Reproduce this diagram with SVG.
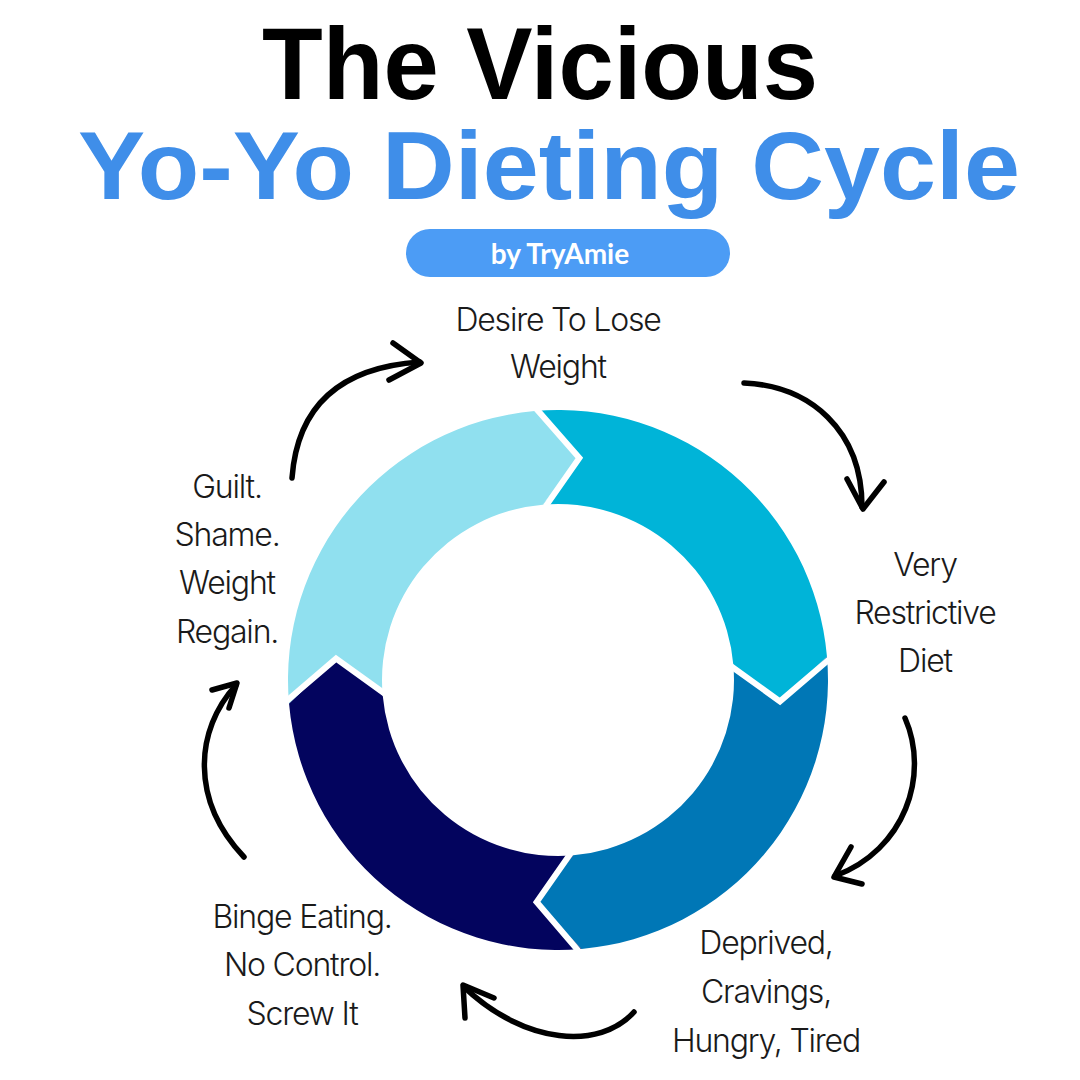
<svg xmlns="http://www.w3.org/2000/svg" width="1080" height="1080" viewBox="0 0 1080 1080">
<style>
.title{font-family:"Liberation Sans",Arial,sans-serif;font-weight:700;}
.lbl{font-family:Inter,"Liberation Sans",sans-serif;font-weight:300;font-size:32px;fill:#1a1a1a;text-anchor:middle;letter-spacing:-1.2px;}
.gap{fill:none;stroke:#ffffff;stroke-width:6;stroke-linejoin:miter;}
.arr{fill:none;stroke:#000;stroke-width:5.5;stroke-linecap:round;stroke-linejoin:round;}
</style>
<rect width="1080" height="1080" fill="#ffffff"/>
<g id="title">
<text class="title" x="540" y="99" font-size="102" text-anchor="middle" textLength="556" lengthAdjust="spacingAndGlyphs" fill="#000">The Vicious</text>
<text class="title" x="549" y="199" font-size="96" text-anchor="middle" textLength="942" lengthAdjust="spacingAndGlyphs" fill="#3f8ee9">Yo-Yo Dieting Cycle</text>
</g>
<g id="badge">
<rect x="406" y="229" width="324" height="48" rx="24" fill="#4c9cf5"/>
<text x="560" y="264" font-family="Lato,'Open Sans',sans-serif" font-weight="700" font-size="28" fill="#fff" text-anchor="middle">by TryAmie</text>
</g>
<g id="ring">
<path id="seg-restrict" fill="#00b4d8" d="M534.47,411.03 A270,270 0 0 1 826.97,656.47 L779.97,701.37 L733.33,664.66 A176,176 0 0 0 542.66,504.67 L579.37,458.03 Z"/>
<path id="seg-deprived" fill="#0077b6" d="M826.97,656.47 A270,270 0 0 1 581.53,948.97 L536.63,901.97 L573.34,855.33 A176,176 0 0 0 733.33,664.66 L779.97,701.37 Z"/>
<path id="seg-binge" fill="#03045e" d="M581.53,948.97 A270,270 0 0 1 289.03,703.53 L336.03,658.63 L382.67,695.34 A176,176 0 0 0 573.34,855.33 L536.63,901.97 Z"/>
<path id="seg-guilt" fill="#90e0ef" d="M289.03,703.53 A270,270 0 0 1 534.47,411.03 L579.37,458.03 L542.66,504.67 A176,176 0 0 0 382.67,695.34 L336.03,658.63 Z"/>
<polyline class="gap" points="533,405 579.37,458.03 543,510"/>
<polyline class="gap" points="833,656 779.97,701.37 728,664"/>
<polyline class="gap" points="582,955 536.63,901.97 573,850"/>
<polyline class="gap" points="283,704 336.03,658.63 388,696"/>
</g>
<g id="connectors">
<path class="arr" d="M292,478 Q300,370 420,362"/>
<polyline class="arr" points="393,343 421,363 389,380"/>
<path class="arr" d="M744,383 C810,386 862,430 862,507"/>
<polyline class="arr" points="847,479 863,509 884,482"/>
<path class="arr" d="M905,718 C930,775 905,850 835,876"/>
<polyline class="arr" points="851,847 834,877 862,884"/>
<path class="arr" d="M634,1012 C600,1050 525,1045 464,987"/>
<polyline class="arr" points="494,998 463,985 465,1018"/>
<path class="arr" d="M244,857 C190,800 195,730 236,685"/>
<polyline class="arr" points="212,690 237,683 229,708"/>
</g>
<g id="node-desire">
<text class="lbl" x="558" y="331">Desire To Lose</text>
<text class="lbl" x="558" y="378">Weight</text>
</g>
<g id="node-restrictive">
<text class="lbl" x="925" y="576">Very</text>
<text class="lbl" x="925" y="624">Restrictive</text>
<text class="lbl" x="925" y="672">Diet</text>
</g>
<g id="node-deprived">
<text class="lbl" x="766" y="954">Deprived,</text>
<text class="lbl" x="766" y="1003">Cravings,</text>
<text class="lbl" x="766" y="1052">Hungry, Tired</text>
</g>
<g id="node-binge">
<text class="lbl" x="302" y="928">Binge Eating.</text>
<text class="lbl" x="302" y="976">No Control.</text>
<text class="lbl" x="302" y="1025">Screw It</text>
</g>
<g id="node-guilt">
<text class="lbl" x="227" y="498">Guilt.</text>
<text class="lbl" x="227" y="546">Shame.</text>
<text class="lbl" x="227" y="594">Weight</text>
<text class="lbl" x="227" y="643">Regain.</text>
</g>
</svg>
